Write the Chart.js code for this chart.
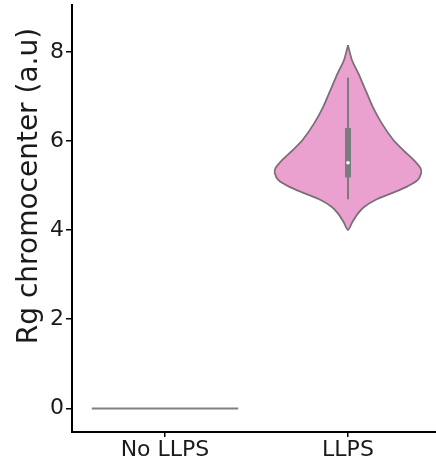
<!DOCTYPE html>
<html>
<head>
<meta charset="utf-8">
<script src="https://cdn.jsdelivr.net/npm/chart.js@4.4.1/dist/chart.umd.min.js"></script>
<style>
  html, body { margin: 0; padding: 0; background: #fff; overflow: hidden; }
  canvas { display: block; }
</style>
</head>
<body>
<canvas id="c" width="436" height="465" style="width:436px;height:465px"></canvas>
<script>
// Groups on the x axis
const categories = ['No LLPS', 'LLPS'];
const yTicks = [0, 2, 4, 6, 8];
const yTitle = 'Rg chromocenter (a.u)';

// "No LLPS": every observation sits at 0, so the violin collapses to a line
const noLlpsValue = 0;

// "LLPS": kernel density profile (value, relative density; peak = 1)
const llpsValues  = [8.15, 7.81, 7.52, 7.14, 6.76, 6.40, 6.02, 5.80, 5.57, 5.39, 5.28, 5.12, 4.97, 4.83, 4.68, 4.52, 4.38, 4.18, 4.00];
const llpsDensity = [0.00, 0.055, 0.14, 0.24, 0.34, 0.46, 0.62, 0.75, 0.90, 0.99, 1.00, 0.95, 0.80, 0.60, 0.38, 0.22, 0.14, 0.06, 0.00];

// "LLPS": box summary
const llpsWhiskerLow = 4.69;
const llpsQ1 = 5.18;
const llpsMedian = 5.51;
const llpsQ3 = 6.29;
const llpsWhiskerHigh = 7.42;

const HALF_WIDTH = 0.4;
const FILL = '#EBA1CF';
const EDGE = '#7c6f77';
const BOX = '#7b7b7b';
const FONT = "'DejaVu Sans', sans-serif";

// Closed outline: down the right side, back up the left side
const llpsIdx = categories.indexOf('LLPS');
const noIdx = categories.indexOf('No LLPS');
const outline = [];
llpsValues.forEach((v, i) => outline.push({ x: llpsIdx + HALF_WIDTH * llpsDensity[i], y: v }));
for (let i = llpsValues.length - 2; i >= 0; i--) {
  outline.push({ x: llpsIdx - HALF_WIDTH * llpsDensity[i], y: llpsValues[i] });
}

// y-axis title, placed beside the axis
const yTitlePlugin = {
  id: 'yTitle',
  afterDraw(chart) {
    const ctx = chart.ctx;
    ctx.save();
    ctx.translate(30, 186);
    ctx.rotate(-Math.PI / 2);
    ctx.font = `28px ${FONT}`;
    ctx.fillStyle = '#1a1a1a';
    ctx.textAlign = 'center';
    ctx.textBaseline = 'middle';
    ctx.fillText(yTitle, 0, 0);
    ctx.restore();
  }
};

new Chart(document.getElementById('c'), {
  type: 'scatter',
  data: {
    datasets: [
      {
        data: outline,
        order: 10,
        showLine: true,
        fill: 'shape',
        backgroundColor: FILL,
        borderColor: EDGE,
        borderWidth: 1.8,
        tension: 0.25,
        pointRadius: 0
      },
      {
        data: [{ x: llpsIdx, y: llpsWhiskerLow }, { x: llpsIdx, y: llpsWhiskerHigh }],
        order: 3,
        showLine: true,
        borderColor: BOX,
        borderWidth: 2,
        pointRadius: 0
      },
      {
        data: [{ x: llpsIdx, y: llpsQ1 }, { x: llpsIdx, y: llpsQ3 }],
        order: 2,
        showLine: true,
        borderColor: BOX,
        borderWidth: 6,
        borderCapStyle: 'butt',
        pointRadius: 0
      },
      {
        data: [{ x: llpsIdx, y: llpsMedian }],
        order: 1,
        pointRadius: 1.8,
        pointBackgroundColor: '#ffffff',
        pointBorderWidth: 0
      },
      {
        data: [{ x: noIdx - HALF_WIDTH, y: noLlpsValue }, { x: noIdx + HALF_WIDTH, y: noLlpsValue }],
        order: 1,
        showLine: true,
        borderColor: '#808080',
        borderWidth: 2,
        pointRadius: 0
      }
    ]
  },
  options: {
    responsive: false,
    animation: false,
    layout: { autoPadding: false, padding: { top: 5, right: 0, left: 0, bottom: 0 } },
    plugins: { legend: { display: false }, tooltip: { enabled: false } },
    scales: {
      x: {
        type: 'linear',
        min: -0.508,
        max: 1.481,
        afterBuildTicks: s => { s.ticks = categories.map((_, i) => ({ value: i })); },
        afterFit: s => { s.height = 33; s.paddingLeft = 0; s.paddingRight = 0; },
        ticks: {
          callback: v => categories[v],
          color: '#1a1a1a',
          font: { family: FONT, size: 22 },
          padding: 0,
          maxRotation: 0
        },
        grid: { drawOnChartArea: false, drawTicks: true, tickLength: 5, color: '#000', lineWidth: 1.5 },
        border: { display: true, color: '#000', width: 2 }
      },
      y: {
        min: -0.53,
        max: 9.05,
        afterBuildTicks: s => { s.ticks = yTicks.map(v => ({ value: v })); },
        afterFit: s => { s.width = 72; s.paddingTop = 0; s.paddingBottom = 0; s.paddingLeft = 0; s.paddingRight = 0; },
        ticks: {
          color: '#1a1a1a',
          font: { family: FONT, size: 22 },
          padding: 2
        },
        grid: { drawOnChartArea: false, drawTicks: true, tickLength: 6, color: '#000', lineWidth: 1.5 },
        border: { display: true, color: '#000', width: 2 }
      }
    }
  },
  plugins: [yTitlePlugin]
});
</script>
</body>
</html>
